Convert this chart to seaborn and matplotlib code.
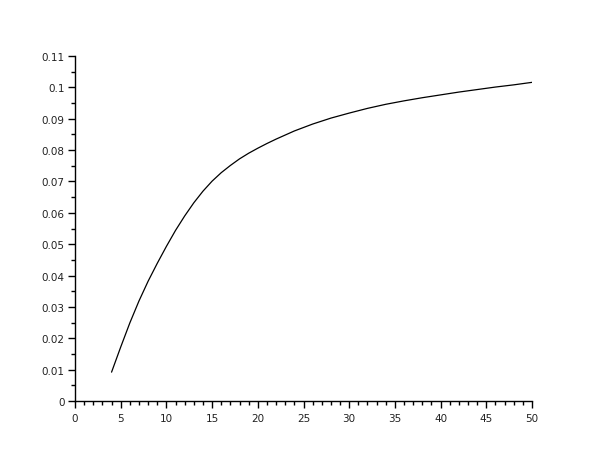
import numpy as np
import pandas as pd
import matplotlib
matplotlib.use("Agg")
import matplotlib.pyplot as plt
import seaborn as sns
from matplotlib.ticker import MultipleLocator, FuncFormatter

# values
x_vals = [4, 5, 6, 7, 8, 9, 10, 11, 12, 13, 14, 15, 16, 17, 18, 19, 20, 21,
          22, 24, 26, 28, 30, 32, 34, 36, 38, 40, 42, 44, 46, 48, 50]
y_vals = [0.0092, 0.0172, 0.0249, 0.0319, 0.0382, 0.0439, 0.0493, 0.0544, 0.0590,
          0.0632, 0.0669, 0.0701, 0.0728, 0.0751, 0.0772, 0.0790, 0.0806, 0.0821,
          0.0835, 0.0861, 0.0883, 0.0902, 0.0918, 0.0933, 0.0946, 0.0957,
          0.0967, 0.0976, 0.0985, 0.0993, 0.1001, 0.1008, 0.1016]

df = pd.DataFrame({"x": x_vals, "y": y_vals})

sns.set_style("ticks")
plt.rcParams['font.family'] = ['DejaVu Sans']

fig = plt.figure(figsize=(6.1, 4.6), dpi=100)
ax = fig.add_axes([75/610, 58/460, 457/610, 345/460])

sns.lineplot(data=df, x="x", y="y", ax=ax, color="black", linewidth=0.9)

ax.set_xlim(0, 50)
ax.set_ylim(0, 0.11)
ax.xaxis.set_major_locator(MultipleLocator(5))
ax.xaxis.set_minor_locator(MultipleLocator(1))
ax.yaxis.set_major_locator(MultipleLocator(0.01))
ax.yaxis.set_minor_locator(MultipleLocator(0.005))
ax.yaxis.set_major_formatter(FuncFormatter(lambda v, p: "%g" % round(v, 3)))
ax.xaxis.set_major_formatter(FuncFormatter(lambda v, p: "%g" % v))
ax.tick_params(which="major", length=5, width=1, labelsize=7.5, color="black",
               labelcolor="#222222")
ax.tick_params(axis="y", which="major", pad=2.5)
ax.tick_params(which="minor", length=3, width=1, color="black")
ax.set_xlabel("")
ax.set_ylabel("")
sns.despine(ax=ax)
for s in ["left", "bottom"]:
    ax.spines[s].set_color("black")
    ax.spines[s].set_linewidth(1)

fig.savefig("out.png", dpi=100)
